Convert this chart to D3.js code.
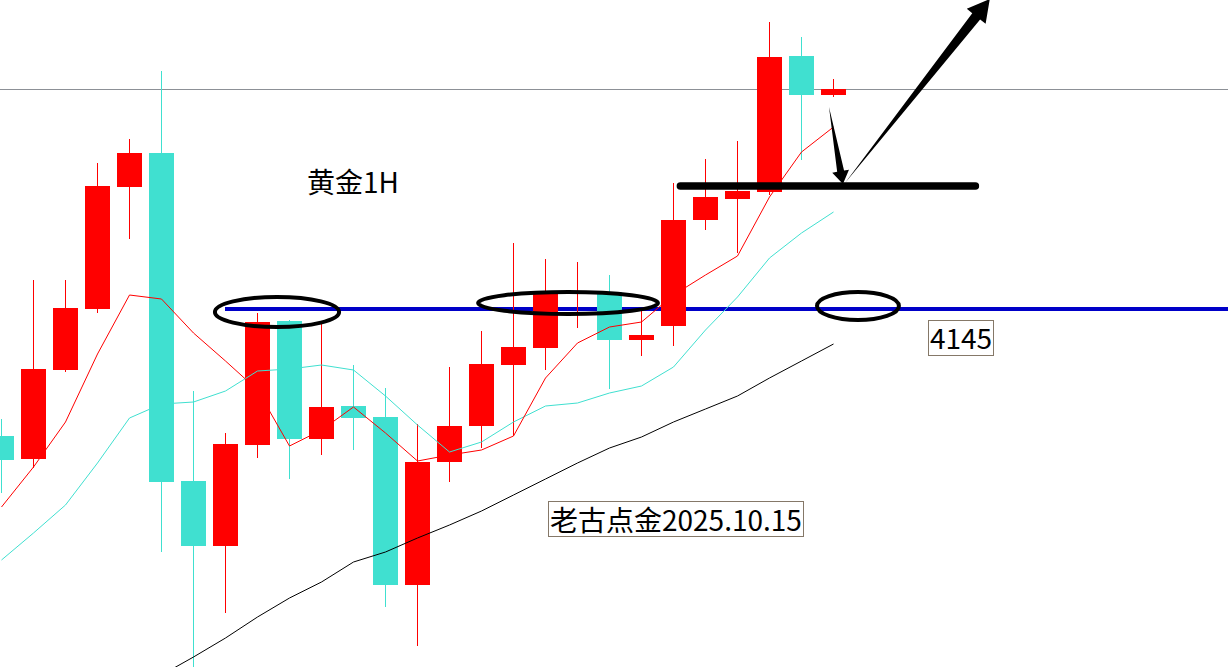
<!DOCTYPE html>
<html>
<head>
<meta charset="utf-8">
<script src="https://cdn.jsdelivr.net/npm/d3@7"></script>
<style>
  html, body { margin: 0; padding: 0; background: #ffffff; }
  svg { display: block; }
</style>
</head>
<body>
<svg id="chart" width="1228" height="667"></svg>
<script>
// ---- data (1H gold candles) ----
const openP  = [4113.25,4107.5,4129.75,4145,4175.5,4184,4102,4085.75,4111,4142,4112.5,4120.75,4118,4076,4106.75,4115.75,4131,4135.25,4148.75,4149.25,4137.25,4140.75,4167.25,4172.5,4174.25,4208.25,4198.5];
const highP  = [4117.5,4152.25,4152.25,4181.5,4187.5,4204.5,4124.5,4114,4144,4142.25,4141.5,4131,4125.25,4116.25,4130.5,4139.5,4161.5,4157.5,4156.75,4153.5,4144.75,4176.5,4182.5,4187,4216.75,4213,4202.5];
const lowP   = [4099,4105.25,4129.25,4144,4162.5,4084.25,4055,4069,4107.75,4102.5,4108.5,4109.75,4070.5,4060.75,4101.75,4110.25,4113.25,4129.75,4140.25,4125,4133.25,4135.75,4164.75,4159,4173.5,4182.25,4198];
const closeP = [4107.25,4130,4145.25,4175.75,4184,4101.75,4085.75,4111.25,4141.75,4112.5,4120.5,4117.75,4076,4106.75,4115.75,4131.25,4135.5,4148.75,4149.25,4137.25,4138.5,4167.25,4173,4174.5,4208,4198.5,4200];

// moving averages (read values)
const maFast = [4095.5,4105.5,4116.75,4133.75,4148.5,4147.5,4139,4132,4124.75,4110.75,4114.75,4120.5,4114,4107,4108.5,4109.75,4113.25,4127.75,4136.5,4140.5,4141.75,4148.5,4153.5,4158.25,4173,4184.25,4190.5];
const maMid  = [4082.25,4089,4096,4106.5,4117.75,4121.25,4121.75,4124.5,4129.5,4130,4131,4129.75,4123.25,4116,4109.25,4111.75,4116.75,4120.75,4121.5,4124,4125.75,4130.5,4139.75,4148,4157.75,4164,4169.25];
const maSlow = [null,null,null,null,null,4053.5,4058,4062.75,4068,4072.75,4076.75,4081.75,4084.25,4087.75,4091,4094.5,4098.5,4102.5,4106.5,4110.25,4113,4116.75,4120,4123.25,4127.75,4132,4136.25];

// annotation levels / labels
const currentPrice = 4200;
const keyLevel = 4145;
const supportLevel = 4175.75;
const titleText = "黄金1H";
const levelText = "4145";
const signText = "老古点金2025.10.15";

// ---- scales ----
const W = 1228, H = 667;
const svg = d3.select("#chart");
const x = d3.scaleLinear().domain([0, 26]).range([1, 833]);
const y = d3.scaleLinear().domain([4145, 4200]).range([309, 89]);

const RED = "#ff0000", TEAL = "#40e0d0";

svg.append("rect").attr("width", W).attr("height", H).attr("fill", "#fff");

// current price line
svg.append("line")
  .attr("x1", 0).attr("x2", W)
  .attr("y1", Math.round(y(currentPrice)) + 0.5).attr("y2", Math.round(y(currentPrice)) + 0.5)
  .attr("stroke", "#8c9096").attr("stroke-width", 1);

// blue key level line
svg.append("line")
  .attr("x1", x(7)).attr("x2", W)
  .attr("y1", y(keyLevel)).attr("y2", y(keyLevel))
  .attr("stroke", "#0000c8").attr("stroke-width", 4);

// candles
const candles = d3.range(openP.length).map(i => ({
  i, o: openP[i], h: highP[i], l: lowP[i], c: closeP[i]
}));
const cg = svg.append("g").attr("shape-rendering", "crispEdges");
cg.selectAll("line.wick").data(candles).join("line")
  .attr("class", "wick")
  .attr("x1", d => Math.round(x(d.i)) + 0.5).attr("x2", d => Math.round(x(d.i)) + 0.5)
  .attr("y1", d => y(d.h)).attr("y2", d => y(d.l))
  .attr("stroke", d => d.c >= d.o ? RED : TEAL).attr("stroke-width", 1);
cg.selectAll("rect.body").data(candles).join("rect")
  .attr("class", "body")
  .attr("x", d => Math.round(x(d.i)) - 12)
  .attr("width", 25)
  .attr("y", d => Math.round(y(Math.max(d.o, d.c))))
  .attr("height", d => Math.max(2, Math.round(Math.abs(y(d.o) - y(d.c)))))
  .attr("fill", d => d.c >= d.o ? RED : TEAL);

// moving averages
function maLine(arr, color) {
  const line = d3.line()
    .defined(d => d != null)
    .x((d, i) => x(i) + 0.5)
    .y(d => y(d));
  svg.append("path").datum(arr)
    .attr("d", line)
    .attr("fill", "none")
    .attr("stroke", color)
    .attr("stroke-width", 1);
}
maLine(maSlow, "#000000");
maLine(maMid, TEAL);
maLine(maFast, RED);

// black support line
svg.append("line")
  .attr("x1", x(21.23)).attr("x2", x(30.45))
  .attr("y1", y(supportLevel)).attr("y2", y(supportLevel))
  .attr("stroke", "#000").attr("stroke-width", 7.5).attr("stroke-linecap", "round");

// ellipses
const ellipses = [
  { cx: 8.625, cy: 4144.25, rx: 1.94, ry: 3.75 },
  { cx: 17.72, cy: 4146.5, rx: 2.81, ry: 2.75 },
  { cx: 26.78, cy: 4145.75, rx: 1.28, ry: 3.5 }
];
svg.selectAll("ellipse.mark").data(ellipses).join("ellipse")
  .attr("class", "mark")
  .attr("cx", d => x(d.cx)).attr("cy", d => y(d.cy))
  .attr("rx", d => x(d.rx) - x(0)).attr("ry", d => y(keyLevel) - y(keyLevel + d.ry))
  .attr("fill", "none").attr("stroke", "#000").attr("stroke-width", 4);

// arrows (tapered shaft + head)
function arrow(t0, t1, headLen, headHalf, shaftHalf) {
  const ax = x(t0[0]), ay = y(t0[1]);
  const bx = x(t1[0]), by = y(t1[1]);
  const dx = bx - ax, dy = by - ay, L = Math.hypot(dx, dy);
  const ux = dx / L, uy = dy / L, px = -uy, py = ux;
  const hx = bx - ux * headLen, hy = by - uy * headLen;
  const pts = [
    [ax, ay],
    [hx + px * shaftHalf, hy + py * shaftHalf],
    [hx + px * headHalf, hy + py * headHalf],
    [bx, by],
    [hx - px * headHalf, hy - py * headHalf],
    [hx - px * shaftHalf, hy - py * shaftHalf]
  ];
  svg.append("path")
    .attr("d", "M" + pts.map(p => p.join(",")).join("L") + "Z")
    .attr("fill", "#000");
}
arrow([25.875, 4195.5], [26.31, 4176.25], 13, 8.5, 3.5);
arrow([26.375, 4176.5], [30.9, 4222.5], 22, 12, 5);

// texts
const FONT = "'Noto Sans CJK SC', 'Noto Sans', sans-serif";
svg.append("text")
  .attr("x", 307).attr("y", 193)
  .attr("font-family", FONT).attr("font-size", 28)
  .attr("fill", "#000").text(titleText);

function boxedText(str, x0, base, size, top, h) {
  const g = svg.append("g");
  const t = g.append("text")
    .attr("x", x0).attr("y", base)
    .attr("font-family", FONT).attr("font-size", size)
    .attr("fill", "#000").text(str);
  const w = t.node().getComputedTextLength();
  g.insert("rect", "text")
    .attr("x", Math.round(x0) - 1.5).attr("y", top + 0.5)
    .attr("width", Math.round(w) + 3).attr("height", h)
    .attr("fill", "#fff").attr("stroke", "#857868").attr("stroke-width", 1);
}
boxedText(levelText, 930, 349, 28, 320, 35);
boxedText(signText, 550, 531, 28, 501, 35);
</script>
</body>
</html>
